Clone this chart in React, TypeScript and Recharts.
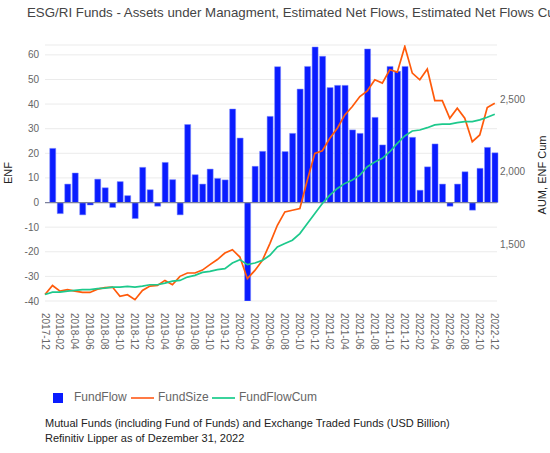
import React from 'react';
import {
  ComposedChart, Bar, Line, XAxis, YAxis, CartesianGrid, ReferenceLine,
} from 'recharts';

// month categories, 2017-12 .. 2022-12
const months = [
  '2017-12',
  '2018-01', '2018-02', '2018-03', '2018-04', '2018-05', '2018-06', '2018-07', '2018-08', '2018-09', '2018-10', '2018-11', '2018-12',
  '2019-01', '2019-02', '2019-03', '2019-04', '2019-05', '2019-06', '2019-07', '2019-08', '2019-09', '2019-10', '2019-11', '2019-12',
  '2020-01', '2020-02', '2020-03', '2020-04', '2020-05', '2020-06', '2020-07', '2020-08', '2020-09', '2020-10', '2020-11', '2020-12',
  '2021-01', '2021-02', '2021-03', '2021-04', '2021-05', '2021-06', '2021-07', '2021-08', '2021-09', '2021-10', '2021-11', '2021-12',
  '2022-01', '2022-02', '2022-03', '2022-04', '2022-05', '2022-06', '2022-07', '2022-08', '2022-09', '2022-10', '2022-11', '2022-12',
];

// estimated net flows (USD bn), none for the first month
const fundFlow = [
  null,
  22, -4.5, 7.5, 12, -5, -1, 9.5, 6, -2, 8.5, 2.8, -6.5,
  14.3, 5.2, -1.5, 16.3, 9.3, -5, 31.7, 11.3, 7.5, 13.6, 9.8, 9.2,
  38, 26.2, -40, 14.7, 20.8, 35, 55.2, 20.7, 28.1, 46.1, 55.3, 63.2,
  59.4, 46.7, 47.6, 47.6, 29.5, 28.1, 62.4, 34.6, 23.4, 55.3, 53.3, 55.3,
  26.5, 5, 14.5, 23.8, 7.5, -1.5, 7.5, 12.5, -3.1, 13.9, 22.4, 20.2,
];

// assets under management (USD bn)
const fundSize = [
  1154,
  1216, 1177, 1187, 1177, 1168, 1168, 1191, 1201, 1205, 1142, 1152, 1118,
  1182, 1212, 1216, 1251, 1221, 1279, 1302, 1302, 1322, 1360, 1395, 1440,
  1463, 1412, 1263, 1320, 1389, 1505, 1631, 1723, 1735, 1747, 1943, 2127,
  2145, 2231, 2300, 2392, 2450, 2519, 2558, 2634, 2611, 2703, 2687, 2864,
  2680, 2634, 2708, 2491, 2491, 2369, 2438, 2369, 2207, 2254, 2443, 2473,
];

// cumulated net flows on the AUM scale
const fundFlowCum = [
  1154,
  1170, 1170, 1177, 1182, 1187, 1187, 1194, 1198, 1205, 1205, 1210, 1205,
  1212, 1221, 1221, 1232, 1246, 1251, 1274, 1286, 1306, 1313, 1325, 1332,
  1371, 1394, 1360, 1371, 1389, 1424, 1481, 1505, 1528, 1574, 1643, 1712,
  1781, 1839, 1885, 1920, 1943, 1977, 2035, 2067, 2093, 2138, 2196, 2247,
  2281, 2288, 2304, 2323, 2328, 2328, 2339, 2346, 2346, 2358, 2376, 2397,
];

const leftTicks = [-40, -30, -20, -10, 0, 10, 20, 30, 40, 50, 60];
const rightTicks = [1500, 2000, 2500];
const xTicks = months.map((_, i) => i).filter((i) => i % 2 === 0);

const data = months.map((m, i) => ({
  idx: i,
  month: m,
  FundFlow: fundFlow[i],
  FundSize: fundSize[i],
  FundFlowCum: fundFlowCum[i],
}));

const FONT = '"Liberation Sans", Arial, sans-serif';
const BLUE = '#0a1cff';
const ORANGE = '#ff5a0a';
const GREEN = '#1dc98c';

const MonthTick = ({ x, y, payload }: any) => (
  <text
    x={x}
    y={y}
    transform={`rotate(90, ${x}, ${y})`}
    textAnchor="start"
    dominantBaseline="central"
    fontSize={10}
    fill="#666"
    fontFamily={FONT}
  >
    {months[payload.value]}
  </text>
);

const abs = (left: number, top: number): React.CSSProperties => ({
  position: 'absolute', left, top, whiteSpace: 'nowrap',
});

export default function App() {
  return (
    <div style={{ position: 'absolute', left: 0, top: 0, width: 550, height: 453, overflow: 'hidden', fontFamily: FONT, background: '#fff' }}>
      <ComposedChart
        width={550}
        height={453}
        data={data}
        margin={{ top: 45, right: 0, left: 0, bottom: 92 }}
      >
        <CartesianGrid yAxisId="left" vertical={false} stroke="#ebebeb" />
        <XAxis
          dataKey="idx"
          type="number"
          domain={[0, 60.3]}
          ticks={xTicks}
          interval={0}
          axisLine={false}
          tickLine={false}
          tickSize={0}
          tickMargin={12}
          height={60}
          tick={<MonthTick />}
        />
        <YAxis
          yAxisId="left"
          domain={[-40, 64]}
          ticks={leftTicks}
          allowDataOverflow
          width={45}
          axisLine={false}
          tickLine={false}
          tickSize={0}
          tickMargin={6}
          tick={{ fontSize: 10, fill: '#666', fontFamily: FONT }}
        />
        <YAxis
          yAxisId="right"
          orientation="right"
          domain={[1109, 2874]}
          ticks={rightTicks}
          allowDataOverflow
          width={53}
          axisLine={false}
          tickLine={false}
          tickSize={0}
          tickMargin={3}
          tickFormatter={(v: number) => v.toLocaleString('en-US')}
          tick={{ fontSize: 10, fill: '#666', fontFamily: FONT, textAnchor: 'start' }}
        />
        <Bar
          yAxisId="left"
          dataKey="FundFlow"
          barSize={6}
          fill={BLUE}
          stroke="#7d8bff"
          strokeWidth={0.5}
          isAnimationActive={false}
        />
        <ReferenceLine yAxisId="left" y={0} stroke="#7c819c" strokeWidth={1.2} />
        <Line
          yAxisId="right"
          dataKey="FundSize"
          type="linear"
          stroke={ORANGE}
          strokeWidth={1.7}
          dot={false}
          isAnimationActive={false}
        />
        <Line
          yAxisId="right"
          dataKey="FundFlowCum"
          type="linear"
          stroke={GREEN}
          strokeWidth={1.7}
          dot={false}
          isAnimationActive={false}
        />
      </ComposedChart>

      <div style={{ ...abs(27, 5), fontSize: 13.3, color: '#444' }}>
        ESG/RI Funds - Assets under Managment, Estimated Net Flows, Estimated Net Flows Cum
      </div>

      <div style={{ ...abs(-2, 168), width: 20, textAlign: 'center', fontSize: 11, color: '#222', transform: 'rotate(-90deg)' }}>
        ENF
      </div>
      <div style={{ ...abs(492, 169), width: 100, textAlign: 'center', fontSize: 11, color: '#222', transform: 'rotate(-90deg)' }}>
        AUM, ENF Cum
      </div>

      {/* legend */}
      <div style={{ ...abs(53, 393), width: 10, height: 10, background: BLUE }} />
      <div style={{ ...abs(74, 390), fontSize: 12, color: '#666' }}>FundFlow</div>
      <div style={{ ...abs(131, 397), width: 23, height: 2, background: '#ff7a45' }} />
      <div style={{ ...abs(158, 390), fontSize: 12, color: '#666' }}>FundSize</div>
      <div style={{ ...abs(212, 397), width: 23, height: 2, background: '#3bd39c' }} />
      <div style={{ ...abs(239, 390), fontSize: 12, color: '#666' }}>FundFlowCum</div>

      <div style={{ ...abs(45, 416), fontSize: 11, color: '#222', lineHeight: '15px' }}>
        Mutual Funds (including Fund of Funds) and Exchange Traded Funds (USD Billion)
        <br />
        Refinitiv Lipper as of Dezember 31, 2022
      </div>
    </div>
  );
}
